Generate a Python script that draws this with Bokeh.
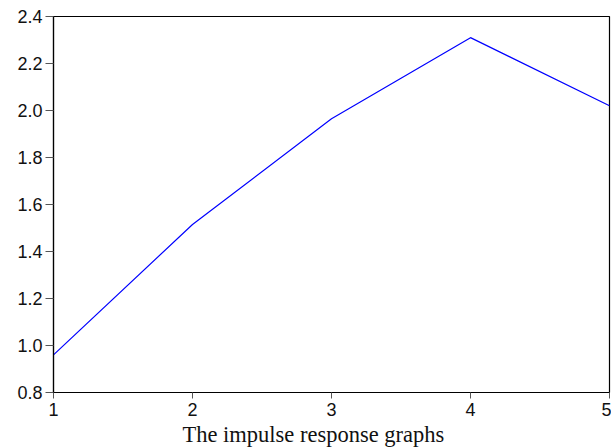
from bokeh.plotting import figure
from bokeh.models import Range1d, FixedTicker, Title, CustomJSTickFormatter
from bokeh.embed import file_html
from bokeh.resources import INLINE

periods = [1, 2, 3, 4, 5]
response = [0.96, 1.515, 1.965, 2.31, 2.02]
y_ticks = [0.8, 1.0, 1.2, 1.4, 1.6, 1.8, 2.0, 2.2, 2.4]
x_ticks = [1, 2, 3, 4, 5]
caption = "The impulse response graphs"

p = figure(width=611, height=448, output_backend="svg", toolbar_location=None,
           x_range=Range1d(1, 5), y_range=Range1d(0.8, 2.4),
           min_border_left=53, min_border_right=2, min_border_top=16, min_border_bottom=10)
p.line(periods, response, line_color="#0000ff", line_width=1.2)

p.xgrid.visible = False
p.ygrid.visible = False
p.outline_line_color = "black"
p.outline_line_width = 1.2
p.outline_line_alpha = 1

for ax in (p.xaxis[0], p.yaxis[0]):
    ax.axis_line_color = "black"
    ax.axis_line_width = 1.2
    ax.major_tick_line_color = "#555555"
    ax.minor_tick_line_color = None
    ax.major_label_text_font = "Liberation Sans"
    ax.major_label_text_font_size = "18px"
    ax.major_label_text_color = "#111111"
    ax.major_tick_in = 0

p.xaxis.ticker = FixedTicker(ticks=x_ticks)
p.yaxis.ticker = FixedTicker(ticks=y_ticks)
p.yaxis.major_tick_out = 8
p.xaxis.major_tick_out = 6
p.yaxis.major_label_standoff = 3
p.xaxis.major_label_standoff = 4
p.yaxis.formatter = CustomJSTickFormatter(code="return tick.toFixed(1);")

t = Title(text=caption, align="left", offset=129,
          text_font="Liberation Serif", text_font_size="22.5px",
          text_font_style="normal", text_color="#111111", standoff=3)
p.add_layout(t, "below")

open("out.html", "w").write(file_html(p, INLINE))
